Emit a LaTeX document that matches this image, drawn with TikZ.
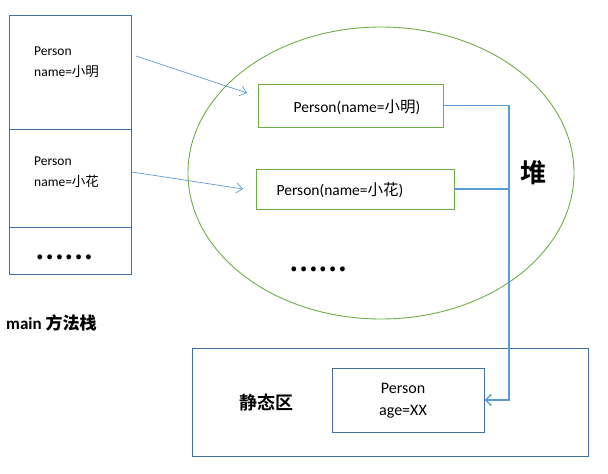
\documentclass[tikz,border=0pt]{standalone}
\usepackage{fontspec}
\setmainfont{Carlito}
\newfontfamily\cjk{Noto Sans CJK SC}
\newfontfamily\cjkb{Noto Sans CJK SC Bold}
\usetikzlibrary{arrows.meta,shapes.geometric}
\definecolor{lblue}{HTML}{5B9BD5}
\definecolor{dblue}{HTML}{41719C}
\definecolor{lgreen}{HTML}{70AD47}
\tikzset{
  cellbox/.style={draw=dblue,line width=0.9pt,minimum width=122pt,inner sep=0pt},
  heapbox/.style={draw=lgreen,line width=0.9pt,inner sep=0pt},
  statbox/.style={draw=dblue,line width=0.9pt,inner sep=0pt},
  txt/.style={inner sep=0pt,align=left,font=\fontsize{13.5}{21}\selectfont},
  htxt/.style={inner sep=0pt,font=\fontsize{15.5}{18}\selectfont},
  ref/.style={draw=lblue,line width=0.7pt,-{Straight Barb[length=6pt,width=10pt]}},
  link/.style={draw=lblue,line width=1.4pt},
  dots/.style={inner sep=0pt,font=\cjkb\fontsize{26}{26}\selectfont}
}
\begin{document}
\begin{tikzpicture}[x=1pt,y=-1pt]
\useasboundingbox (0,0) rectangle (608,474);
% method stack
\node[cellbox,minimum height=114pt] (c1) at (70,72) {};
\node[cellbox,minimum height=98pt] (c2) at (70,178) {};
\node[cellbox,minimum height=47pt] (c3) at (70,250.5) {};
\node[txt,anchor=north west] (t1) at (34,47) {Person\\name={\cjk 小明}};
\node[txt,anchor=north west] (t2) at (34,157) {Person\\name={\cjk 小花}};
\node[dots] (d1) at (64,257) {……};
\node[inner sep=0pt,anchor=west,font=\bfseries\fontsize{17}{20}\selectfont] (lm) at (6,323) {main {\cjkb 方法栈}};
% heap
\node[draw=lgreen,line width=0.9pt,ellipse,minimum width=386pt,minimum height=292pt,inner sep=0pt] (heap) at (381,173) {};
\node[heapbox,minimum width=185pt,minimum height=43pt] (h1) at (350.5,105.5) {};
\node[htxt] (h1t) at (357,107) {Person(name={\cjk 小明})};
\node[heapbox,minimum width=198pt,minimum height=40pt] (h2) at (355,189) {};
\node[htxt] (h2t) at (340,190) {Person(name={\cjk 小花})};
\node[dots] (d2) at (318,269) {……};
\node[inner sep=0pt,font=\cjkb\fontsize{26}{26}\selectfont] (lh) at (533,173) {堆};
% static area
\node[statbox,minimum width=396pt,minimum height=108pt] (st) at (390,402) {};
\node[statbox,minimum width=152pt,minimum height=64pt] (s1) at (408,400) {};
\node[txt,align=center,font=\fontsize{16}{22}\selectfont] (s1t) at (403,401) {Person\\age=XX};
\node[inner sep=0pt,font=\cjkb\fontsize{18}{20}\selectfont] (ls) at (266,403) {静态区};
% connectors
\coordinate (a1s) at (136,56);
\coordinate (a1e) at (247,93);
\coordinate (a2s) at (132,172);
\coordinate (a2e) at (243,189);
\draw[ref] (a1s) -- (a1e);
\draw[ref] (a2s) -- (a2e);
\coordinate (turn) at (509,400);
\draw[link,-{Straight Barb[length=6pt,width=11pt]}] (h1.east) -| (turn) -- (s1.east);
\draw[link] (h2.east) -- (h2.east -| turn);
\end{tikzpicture}
\end{document}
